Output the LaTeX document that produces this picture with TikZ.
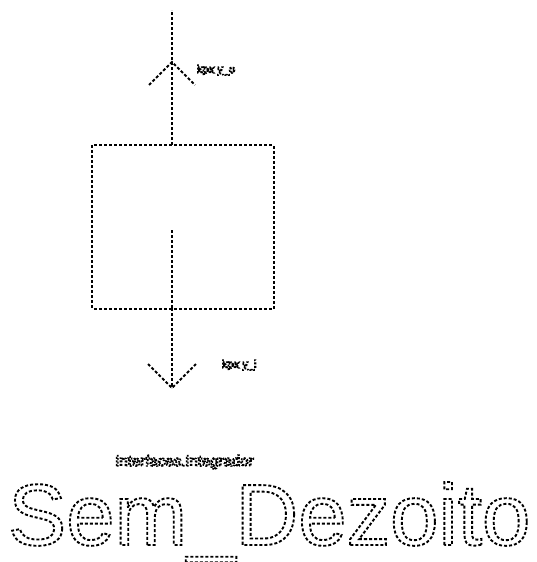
\documentclass[tikz,border=0pt]{standalone}
\usepackage{fontspec}
\setmainfont{Liberation Sans}
\newcommand{\dottxt}[1]{\special{pdf:literal direct 1 Tr 1.4 w [2 1.5] 0 d}#1\special{pdf:literal direct 0 Tr [] 0 d}}
\newcommand{\dotbig}[1]{\special{pdf:literal direct 1 Tr 1.9 w [3 2] 0 d}#1\special{pdf:literal direct 0 Tr [] 0 d}}
\tikzset{
  dl/.style={line width=1.9pt, dash pattern=on 3pt off 2pt},
  lbl/.style={inner sep=0pt, anchor=base west},
}
\begin{document}
\begin{tikzpicture}[x=1pt,y=-1pt]
\useasboundingbox (0,0) rectangle (537,562);
% block
\node[rectangle, minimum width=181pt, minimum height=163pt, inner sep=0pt] (blk) at (183,227) {};
\draw[dl] (blk.north west) rectangle (blk.south east);
\coordinate (ptop) at (172,145);
\coordinate (pbot) at (172,308);
\coordinate (pin) at (172,230);
\coordinate (endtop) at (172,10);
\coordinate (endbot) at (172,388);
\coordinate (tiptop) at (172,62);
\coordinate (wtl) at (149,85);
\coordinate (wtr) at (195,85);
\coordinate (wbl) at (148,364);
\coordinate (wbr) at (196,364);
% connectors
\draw[dl] (ptop) -- (endtop);
\draw[dl] (wtl) -- (tiptop) -- (wtr);
\draw[dl] (pbot) -- (endbot);
\draw[dl] (wbl) -- (endbot) -- (wbr);
\draw[dl] (pin) -- (pbot);
% labels
\node[lbl, font=\fontsize{11}{11}\selectfont] (ltop) at (197,73) {\dottxt{kpx y\_o}};
\node[lbl, font=\fontsize{11}{11}\selectfont] (lbot) at (222,368) {\dottxt{kpx y\_i}};
\node[lbl, font=\fontsize{15}{15}\selectfont] (lcls) at (115,466) {\dottxt{Interfaces.Integrador}};
\node[lbl, font=\fontsize{87}{87}\selectfont] (ltitle) at (8,545) {\dotbig{Sem\_Dezoito}};
\end{tikzpicture}
\end{document}
